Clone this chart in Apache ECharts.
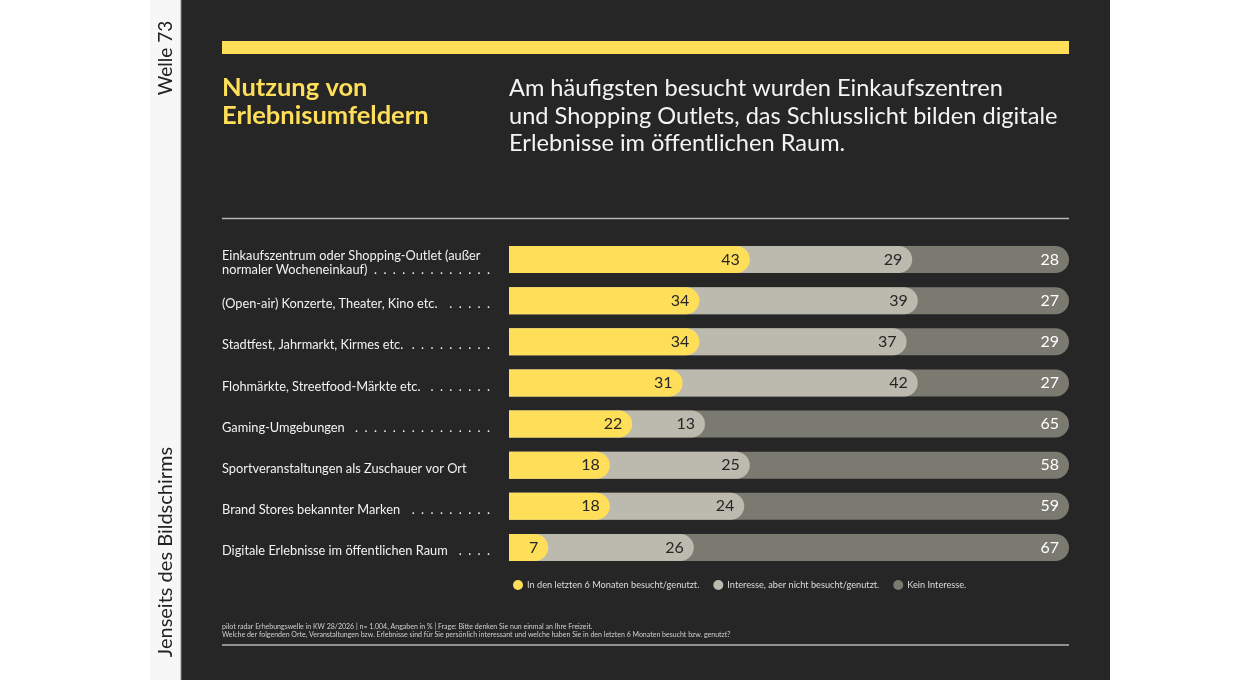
<!DOCTYPE html>
<html>
<head>
<meta charset="utf-8">
<script src="https://cdn.jsdelivr.net/npm/echarts@6/dist/echarts.min.js"></script>
<style>
  html, body { margin: 0; padding: 0; background: #fff; }
  #container { width: 1260px; height: 680px; }
</style>
</head>
<body>
<div id="container"></div>
<script>
var categories = [
    'Einkaufszentrum oder Shopping-Outlet (außer\nnormaler Wocheneinkauf)',
    '(Open-air) Konzerte, Theater, Kino etc.',
    'Stadtfest, Jahrmarkt, Kirmes etc.',
    'Flohmärkte, Streetfood-Märkte etc.',
    'Gaming-Umgebungen',
    'Sportveranstaltungen als Zuschauer vor Ort',
    'Brand Stores bekannter Marken',
    'Digitale Erlebnisse im öffentlichen Raum'
]
// number of leader dots after each label
var leaderDots = [13, 5, 9, 7, 15, 0, 9, 4]

var seriesNames = [
    'In den letzten 6 Monaten besucht/genutzt.',
    'Interesse, aber nicht besucht/genutzt.',
    'Kein Interesse.'
]
var visited = [43, 34, 34, 31, 22, 18, 18, 7]
var interested = [29, 39, 37, 42, 13, 25, 24, 26]
var noInterest = [28, 27, 29, 27, 65, 58, 59, 67]

var YELLOW = '#FFDE59'
var LIGHT = '#BCBAAF'
var DARK = '#7B7A71'
var BG = '#262626'
var FONT = 'Lato, "Noto Sans", sans-serif'

// bars are drawn overlapping, each one running to its cumulative end
var cumVisited = visited.slice()
var cumInterested = visited.map(function (v, i) { return v + interested[i] })
var cumAll = cumInterested.map(function (v, i) { return v + noInterest[i] })

var dotLabels = categories.map(function (c, i) {
    var d = []
    for (var k = 0; k < leaderDots[i]; k++) d.push('.')
    var s = d.join('\u2002')
    return c.indexOf('\n') >= 0 ? ' \n' + s : s
})

function barSeries(name, cum, own, color, textColor) {
    return {
        name: name,
        type: 'bar',
        data: cum,
        barWidth: 27,
        barGap: '-100%',
        itemStyle: { color: color, borderRadius: [0, 13.5, 13.5, 0] },
        label: {
            show: true,
            position: 'insideRight',
            distance: 10,
            color: textColor,
            fontSize: 16,
            fontFamily: FONT,
            formatter: function (p) { return own[p.dataIndex] }
        },
        emphasis: { disabled: true }
    }
}

// a small empty first line pushes the label a few pixels down
function shiftDown(v) {
    return '{s| }\n' + v.split('\n').map(function (l) { return '{t|' + l + '}' }).join('\n')
}
var labelRich = {
    s: { fontSize: 2, lineHeight: 7 },
    t: { color: '#f2f2f2', fontSize: 12.8, lineHeight: 14, fontFamily: FONT }
}

var myChart = echarts.init(document.getElementById('container'))
myChart.setOption({
    backgroundColor: '#fff',
    animation: false,
    textStyle: { fontFamily: FONT },
    grid: { left: 509, right: 191, top: 239, height: 329, containLabel: false },
    xAxis: {
        type: 'value', min: 0, max: 100, show: false
    },
    yAxis: [
        {
            type: 'category',
            data: categories,
            inverse: true,
            axisLine: { show: false },
            axisTick: { show: false },
            splitLine: { show: false },
            axisLabel: { align: 'left', margin: 287, formatter: shiftDown, rich: labelRich }
        },
        {
            type: 'category',
            data: dotLabels,
            inverse: true,
            position: 'left',
            axisLine: { show: false },
            axisTick: { show: false },
            splitLine: { show: false },
            axisLabel: { align: 'right', margin: 19, formatter: shiftDown, rich: labelRich }
        }
    ],
    legend: {
        data: seriesNames,
        left: 508,
        top: 575,
        icon: 'circle',
        itemWidth: 10,
        itemHeight: 10,
        itemGap: 14,
        textStyle: { color: '#dcdcdc', fontSize: 9.2, fontFamily: FONT, padding: [0, 0, 0, -1] }
    },
    series: [
        barSeries(seriesNames[2], cumAll, noInterest, DARK, '#ffffff'),
        barSeries(seriesNames[1], cumInterested, interested, LIGHT, '#262626'),
        barSeries(seriesNames[0], cumVisited, visited, YELLOW, '#262626')
    ],
    graphic: [
        { type: 'rect', z: -10, shape: { x: 150, y: 0, width: 31, height: 680 }, style: { fill: '#f7f7f7' } },
        { type: 'rect', z: -10, shape: { x: 181, y: 0, width: 929, height: 680 }, style: { fill: BG } },
        { type: 'line', z: -9, shape: { x1: 181, y1: 0, x2: 181, y2: 680 }, style: { stroke: '#8a8a8a', lineWidth: 1 } },
        {
            type: 'text', x: 166, y: 58, rotation: Math.PI / 2,
            style: { text: 'Welle 73', fill: '#222', font: '19px ' + FONT, textAlign: 'center', textVerticalAlign: 'middle' }
        },
        {
            type: 'text', x: 166, y: 552, rotation: Math.PI / 2,
            style: { text: 'Jenseits des Bildschirms', fill: '#222', font: '20px ' + FONT, textAlign: 'center', textVerticalAlign: 'middle' }
        },
        { type: 'rect', shape: { x: 222, y: 41, width: 847, height: 13 }, style: { fill: YELLOW } },
        {
            type: 'text', x: 222, y: 74,
            style: { text: 'Nutzung von\nErlebnisumfeldern', fill: YELLOW, font: 'bold 25.5px ' + FONT, lineHeight: 28 }
        },
        {
            type: 'text', x: 509, y: 75,
            style: {
                text: 'Am häufigsten besucht wurden Einkaufszentren\nund Shopping Outlets, das Schlusslicht bilden digitale\nErlebnisse im öffentlichen Raum.',
                fill: '#f4f4f4', font: '23.6px ' + FONT, lineHeight: 27.5
            }
        },
        { type: 'line', shape: { x1: 222, y1: 218.5, x2: 1069, y2: 218.5 }, style: { stroke: '#b5b5b5', lineWidth: 1.5 } },
        {
            type: 'text', x: 222, y: 622,
            style: {
                text: 'pilot radar Erhebungswelle in KW 28/2026 | n= 1.004, Angaben in % | Frage: Bitte denken Sie nun einmal an Ihre Freizeit.\nWelche der folgenden Orte, Veranstaltungen bzw. Erlebnisse sind für Sie persönlich interessant und welche haben Sie in den letzten 6 Monaten besucht bzw. genutzt?',
                fill: '#d0d0d0', font: '7px ' + FONT, lineHeight: 8.5
            }
        },
        { type: 'line', shape: { x1: 222, y1: 645, x2: 1069, y2: 645 }, style: { stroke: '#b5b5b5', lineWidth: 1.5 } }
    ]
})
</script>
</body>
</html>
